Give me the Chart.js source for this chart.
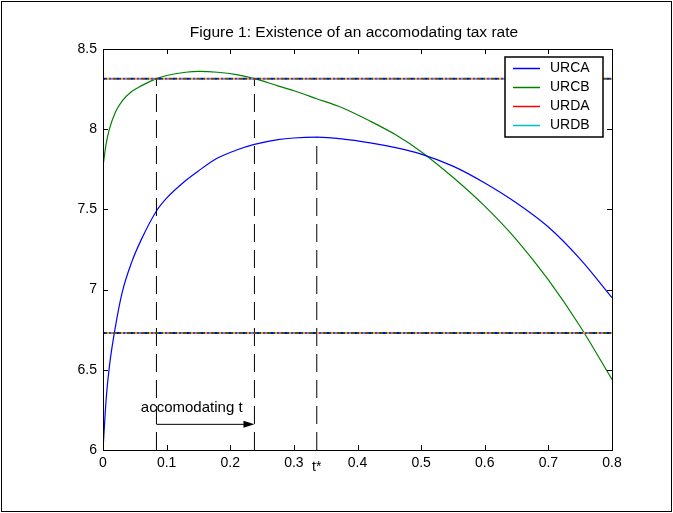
<!DOCTYPE html>
<html>
<head>
<meta charset="utf-8">
<script src="https://cdn.jsdelivr.net/npm/chart.js@4.4.1/dist/chart.umd.min.js"></script>
<style>
  html, body { margin: 0; padding: 0; background: #fff; }
  canvas { display: block; }
</style>
</head>
<body>
<canvas id="fig" width="673" height="513"></canvas>
<script>
// ---- data ----
const tVals = [0, 0.005, 0.01, 0.02, 0.03, 0.045, 0.06, 0.084, 0.1, 0.13, 0.15, 0.18, 0.21, 0.238,
               0.275, 0.3, 0.336, 0.375, 0.42, 0.46, 0.5, 0.55, 0.6, 0.65, 0.7, 0.75, 0.8];
const urca  = [6.0, 6.32, 6.52, 6.78, 6.98, 7.17, 7.31, 7.49, 7.57, 7.68, 7.74, 7.82, 7.87, 7.905,
               7.935, 7.945, 7.95, 7.94, 7.915, 7.885, 7.845, 7.77, 7.665, 7.54, 7.39, 7.19, 6.95];
const urcb  = [7.77, 7.91, 8.0, 8.11, 8.175, 8.235, 8.27, 8.315, 8.335, 8.355, 8.36, 8.355, 8.34, 8.315,
               8.27, 8.24, 8.19, 8.135, 8.05, 7.965, 7.86, 7.7, 7.52, 7.31, 7.06, 6.77, 6.44];
const urdLevels = [8.315, 6.73];

const xTickLabels = ['0', '0.1', '0.2', '0.3', '0.4', '0.5', '0.6', '0.7', '0.8'];
const yTickLabels = ['6', '6.5', '7', '7.5', '8', '8.5'];

const tLow  = 0.084;
const tHigh = 0.238;
const tStar = 0.336;
const urcaMax = 7.95;
const arrowLevel = 6.16;

const seriesNames  = ['URCA', 'URCB', 'URDA', 'URDB'];
const seriesColors = ['#0000ff', '#008000', '#ff0000', '#00bfbf'];
// matlab colour order, used for the overlapping constant lines
const stripeColors = ['#0000ff', '#008000', '#ff0000', '#00bfbf', '#bf00bf', '#bfbf00', '#404040'];

const FONT = '"Liberation Sans", Arial, sans-serif';

const pts = (xs, ys) => xs.map((x, i) => ({ x, y: ys[i] }));

const datasets = [];

// horizontal constant lines drawn as overlapping dotted colours
urdLevels.forEach(lvl => {
  stripeColors.forEach((c, i) => {
    datasets.push({
      data: [{ x: 0, y: lvl }, { x: 0.8, y: lvl }],
      borderColor: c, borderWidth: 2,
      borderDash: [2, 12], borderDashOffset: i * 2,
      order: 0
    });
  });
});

datasets.push(
  { label: 'URCA', data: pts(tVals, urca), borderColor: seriesColors[0], borderWidth: 1.2, cubicInterpolationMode: 'monotone', order: 2 },
  { label: 'URCB', data: pts(tVals, urcb), borderColor: seriesColors[1], borderWidth: 1.2, cubicInterpolationMode: 'monotone', order: 2 }
);

// vertical dashed markers
[[tLow, urdLevels[0]], [tHigh, urdLevels[0]], [tStar, urcaMax]].forEach(([t, top]) => {
  datasets.push({
    data: [{ x: t, y: 6 }, { x: t, y: top }],
    borderColor: '#000', borderWidth: 1, borderDash: [18, 8], order: 1
  });
});

// arrow shaft
datasets.push({
  data: [{ x: tLow, y: arrowLevel }, { x: tHigh - 0.012, y: arrowLevel }],
  borderColor: '#000', borderWidth: 1, order: 1
});

const figurePlugin = {
  id: 'figure',
  beforeDraw(chart) {
    const ctx = chart.ctx;
    ctx.save();
    ctx.fillStyle = '#fff';
    ctx.fillRect(0, 0, chart.width, chart.height);
    ctx.restore();
  },
  afterDraw(chart) {
    const ctx = chart.ctx;
    const a = chart.chartArea;
    const xs = chart.scales.x, ys = chart.scales.y;
    ctx.save();

    // axes box
    ctx.strokeStyle = '#000';
    ctx.lineWidth = 1;
    ctx.strokeRect(Math.round(a.left) + 0.5, Math.round(a.top) + 0.5,
                   Math.round(a.right - a.left), Math.round(a.bottom - a.top));

    // inward ticks
    ctx.beginPath();
    xs.ticks.forEach(tk => {
      const px = Math.round(xs.getPixelForValue(tk.value)) + 0.5;
      ctx.moveTo(px, a.bottom); ctx.lineTo(px, a.bottom - 5);
      ctx.moveTo(px, a.top);    ctx.lineTo(px, a.top + 5);
    });
    ys.ticks.forEach(tk => {
      const py = Math.round(ys.getPixelForValue(tk.value)) + 0.5;
      ctx.moveTo(a.left, py);  ctx.lineTo(a.left + 5, py);
      ctx.moveTo(a.right, py); ctx.lineTo(a.right - 5, py);
    });
    ctx.stroke();

    // arrow head
    const ax = xs.getPixelForValue(tHigh), ay = ys.getPixelForValue(arrowLevel);
    ctx.fillStyle = '#000';
    ctx.beginPath();
    ctx.moveTo(ax, ay);
    ctx.lineTo(ax - 11, ay - 3.5);
    ctx.lineTo(ax - 11, ay + 3.5);
    ctx.closePath();
    ctx.fill();

    // texts
    ctx.fillStyle = '#000';
    ctx.textBaseline = 'middle';
    ctx.textAlign = 'center';
    ctx.font = '15.5px ' + FONT;
    ctx.fillText('Figure 1: Existence of an accomodating tax rate', 354, 32.5);
    ctx.font = '15px ' + FONT;
    ctx.fillText('accomodating t', xs.getPixelForValue(0.1394), ys.getPixelForValue(6.262));
    ctx.font = '14px ' + FONT;
    ctx.fillText('t*', xs.getPixelForValue(tStar), a.bottom + 17);

    // legend
    const lx = 505, ly = 57, lw = 98, lh = 80;
    ctx.fillStyle = '#fff';
    ctx.fillRect(lx, ly, lw, lh);
    ctx.strokeStyle = '#000';
    ctx.lineWidth = 1.5;
    ctx.strokeRect(lx, ly, lw, lh);
    ctx.textAlign = 'left';
    ctx.font = '14px ' + FONT;
    seriesNames.forEach((name, i) => {
      const y = 68 + i * 19;
      ctx.strokeStyle = seriesColors[i];
      ctx.lineWidth = 1.5;
      ctx.beginPath();
      ctx.moveTo(513, y + 0.5); ctx.lineTo(540, y + 0.5);
      ctx.stroke();
      ctx.fillStyle = '#000';
      ctx.fillText(name, 550, y + 0.5);
    });

    // figure frame
    ctx.strokeStyle = '#000';
    ctx.lineWidth = 1;
    ctx.strokeRect(1.5, 1.5, chart.width - 3, chart.height - 3);
    ctx.restore();
  }
};

new Chart(document.getElementById('fig'), {
  type: 'line',
  data: { datasets },
  options: {
    responsive: false,
    animation: false,
    events: [],
    layout: { padding: { top: 49, right: 61, left: 0, bottom: 0 } },
    elements: { point: { radius: 0 }, line: { tension: 0 } },
    plugins: { legend: { display: false }, tooltip: { enabled: false }, title: { display: false } },
    scales: {
      x: {
        type: 'linear', min: 0, max: 0.8,
        ticks: {
          stepSize: 0.1, autoSkip: false, maxRotation: 0, color: '#000', padding: 5,
          font: { family: FONT, size: 14 },
          callback: (v, i) => xTickLabels[i]
        },
        grid: { display: false, drawTicks: false },
        border: { display: false },
        afterFit: s => { s.height = 63; }
      },
      y: {
        type: 'linear', min: 6, max: 8.5,
        ticks: {
          stepSize: 0.5, autoSkip: false, color: '#000', padding: 6,
          font: { family: FONT, size: 14 },
          callback: (v, i) => yTickLabels[i]
        },
        grid: { display: false, drawTicks: false },
        border: { display: false },
        afterFit: s => { s.width = 103; }
      }
    }
  },
  plugins: [figurePlugin]
});
</script>
</body>
</html>
